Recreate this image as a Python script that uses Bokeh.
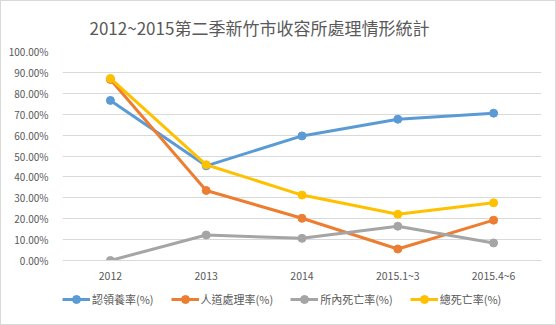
from bokeh.plotting import figure
from bokeh.layouts import column
from bokeh.models import Legend, LegendItem, NumeralTickFormatter, FixedTicker, Range1d
from bokeh.embed import file_html
from bokeh.resources import INLINE

title = "2012~2015第二季新竹市收容所處理情形統計"
categories = ["2012", "2013", "2014", "2015.1~3", "2015.4~6"]
adopt = [0.766, 0.453, 0.596, 0.676, 0.705]
euthanasia = [0.866, 0.335, 0.202, 0.055, 0.193]
death_in = [0.0, 0.122, 0.106, 0.164, 0.084]
death_total = [0.871, 0.458, 0.313, 0.221, 0.276]
names = ["認領養率(%)", "人道處理率(%)", "所內死亡率(%)", "總死亡率(%)"]
colors = ["#5B9BD5", "#ED7D31", "#A5A5A5", "#FFC000"]
series = [adopt, euthanasia, death_in, death_total]

FONT = "Noto Sans CJK TC"

p = figure(width=554, height=284, x_range=categories, y_range=Range1d(0, 1.0),
           output_backend="svg", toolbar_location=None,
           min_border_left=61, min_border_right=14, min_border_top=48, min_border_bottom=24)
p.title.text = title
p.title.align = "left"
p.title.offset = 27
p.title.standoff = 23
p.title.text_font = FONT
p.title.text_font_style = "normal"
p.title.text_font_size = "17px"
p.title.text_color = "#595959"
p.outline_line_color = None
p.background_fill_color = "white"
p.border_fill_color = "white"

p.yaxis.ticker = FixedTicker(ticks=[i / 10 for i in range(11)])
p.yaxis.formatter = NumeralTickFormatter(format="0.00%")
p.yaxis.axis_line_color = None
p.yaxis.major_tick_line_color = None
p.yaxis.minor_tick_line_color = None
p.xaxis.axis_line_color = "#d9d9d9"
p.xaxis.major_tick_line_color = None
p.xaxis.minor_tick_line_color = None
for ax in (p.xaxis, p.yaxis):
    ax.major_label_text_font = FONT
    ax.major_label_text_font_size = "10px"
    ax.major_label_text_color = "#595959"
p.xaxis.major_label_text_font_size = "10.5px"
p.yaxis.major_label_standoff = 8
p.xaxis.major_label_standoff = 1
p.xgrid.grid_line_color = None
p.ygrid.grid_line_color = "#d9d9d9"

for col, vals in zip(colors, series):
    p.line(categories, vals, line_color=col, line_width=3)
    p.scatter(categories, vals, size=8, fill_color=col, line_color=col)

# legend strip below the chart (series drawn out of view, only legend shows)
q = figure(width=554, height=39, x_range=categories, y_range=Range1d(5, 6),
           output_backend="svg", toolbar_location=None,
           x_axis_location=None, y_axis_location=None,
           min_border_left=0, min_border_right=0, min_border_top=0, min_border_bottom=0)
q.grid.grid_line_color = None
q.outline_line_color = None
q.background_fill_color = "white"
q.border_fill_color = "white"
items = []
for name, col, vals in zip(names, colors, series):
    l = q.line(categories, vals, line_color=col, line_width=3)
    s = q.scatter(categories, vals, size=8, fill_color=col, line_color=col)
    items.append(LegendItem(label=name, renderers=[l, s]))
legend = Legend(items=items, orientation="horizontal", location=(0, 15),
                label_text_font=FONT, label_text_font_size="11px",
                label_text_color="#595959", border_line_color=None,
                background_fill_alpha=0,
                glyph_width=28, spacing=17, padding=0, margin=0, label_standoff=2)
q.add_layout(legend, "center")

layout = column(p, q, spacing=0)
layout.styles = {"border": "1px solid #d9d9d9", "background-color": "white"}

open("out.html", "w").write(file_html(layout, INLINE))
